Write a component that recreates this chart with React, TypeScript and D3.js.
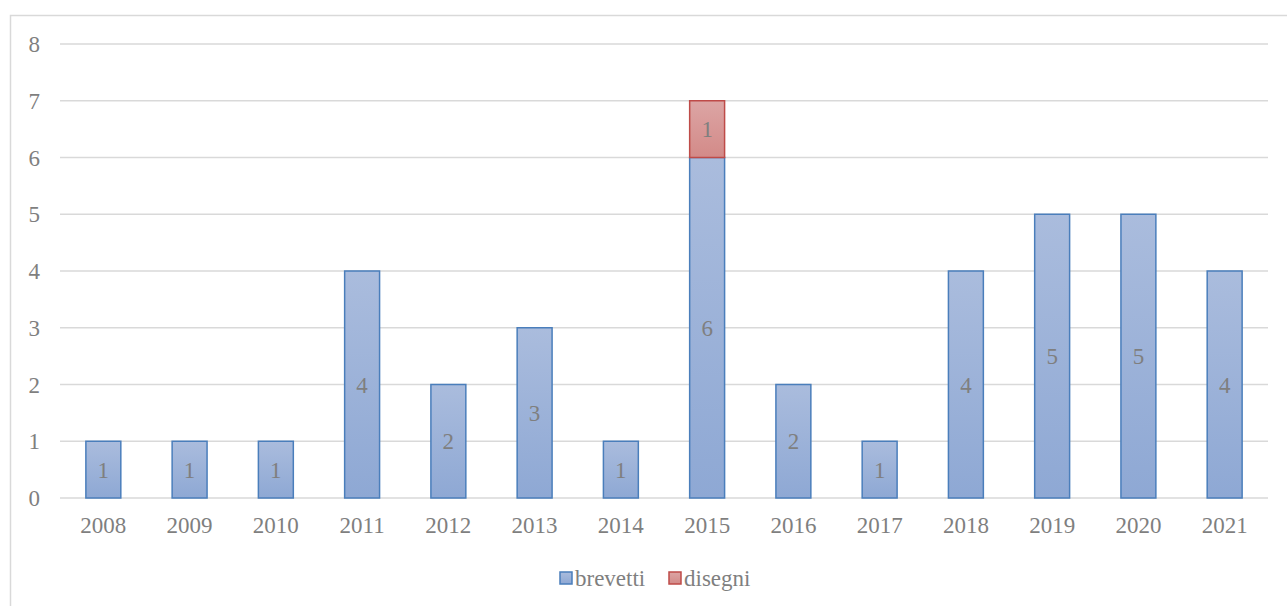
import React, { useEffect, useRef } from 'react';
import * as d3 from 'd3';

const years = ['2008', '2009', '2010', '2011', '2012', '2013', '2014', '2015', '2016', '2017', '2018', '2019', '2020', '2021'];
const brevetti = [1, 1, 1, 4, 2, 3, 1, 6, 2, 1, 4, 5, 5, 4];
const disegni = [0, 0, 0, 0, 0, 0, 0, 1, 0, 0, 0, 0, 0, 0];
const yTicks = [0, 1, 2, 3, 4, 5, 6, 7, 8];

const App = () => {
  const ref = useRef<SVGSVGElement>(null);

  useEffect(() => {
    if (!ref.current) return;
    const svg = d3.select(ref.current);
    svg.selectAll('*').remove();

    const font = "'Liberation Serif', 'Times New Roman', serif";
    const textColor = '#7f7f7f';
    const fs = 23;

    const defs = svg.append('defs');
    const gb = defs.append('linearGradient').attr('id', 'gBlue').attr('x1', 0).attr('y1', 0).attr('x2', 0).attr('y2', 1);
    gb.append('stop').attr('offset', '0%').attr('stop-color', '#aabcdd');
    gb.append('stop').attr('offset', '100%').attr('stop-color', '#8ea8d4');
    const gr = defs.append('linearGradient').attr('id', 'gRed').attr('x1', 0).attr('y1', 0).attr('x2', 0).attr('y2', 1);
    gr.append('stop').attr('offset', '0%').attr('stop-color', '#dca5a4');
    gr.append('stop').attr('offset', '100%').attr('stop-color', '#d38a88');

    // chart border
    svg.append('rect')
      .attr('x', 10.5).attr('y', 15.5).attr('width', 1290).attr('height', 600)
      .attr('fill', 'white').attr('stroke', '#d9d9d9').attr('stroke-width', 1.5);

    const x = d3.scaleBand().domain(years).range([60, 1268]).paddingInner(0.595).paddingOuter(0.3);
    const y = d3.scaleLinear().domain([0, 8]).range([498, 44]);

    const txt = (sel: any) => sel.style('font-family', font).style('font-size', `${fs}px`).attr('fill', textColor);

    // gridlines
    svg.append('g').selectAll('line').data(yTicks).join('line')
      .attr('x1', 60).attr('x2', 1268)
      .attr('y1', (d) => y(d)).attr('y2', (d) => y(d))
      .attr('stroke', '#d9d9d9').attr('stroke-width', 1.5);

    // y tick labels
    svg.append('g').selectAll('text').data(yTicks).join('text')
      .attr('x', 40).attr('y', (d) => y(d)).attr('dy', '0.35em')
      .attr('text-anchor', 'end')
      .call(txt)
      .text((d) => d);

    // x tick labels
    svg.append('g').selectAll('text').data(years).join('text')
      .attr('x', (d) => x(d)! + x.bandwidth() / 2).attr('y', 533)
      .attr('text-anchor', 'middle')
      .call(txt)
      .text((d) => d);

    const stackData = years.map((yr, i) => ({ year: yr, brevetti: brevetti[i], disegni: disegni[i] }));
    const series = d3.stack<any>().keys(['brevetti', 'disegni'])(stackData);
    const fills: Record<string, string> = { brevetti: 'url(#gBlue)', disegni: 'url(#gRed)' };
    const strokes: Record<string, string> = { brevetti: '#4a7ebb', disegni: '#be4b48' };

    series.forEach((s) => {
      const g = svg.append('g');
      const pts = s.filter((d) => d[1] - d[0] > 0);
      g.selectAll('rect').data(pts).join('rect')
        .attr('x', (d) => x(d.data.year)!)
        .attr('y', (d) => y(d[1]))
        .attr('width', x.bandwidth())
        .attr('height', (d) => y(d[0]) - y(d[1]))
        .attr('fill', fills[s.key]).attr('stroke', strokes[s.key]).attr('stroke-width', 1.5);
      g.selectAll('text').data(pts).join('text')
        .attr('x', (d) => x(d.data.year)! + x.bandwidth() / 2)
        .attr('y', (d) => (y(d[0]) + y(d[1])) / 2).attr('dy', '0.35em')
        .attr('text-anchor', 'middle')
        .call(txt)
        .text((d) => d[1] - d[0]);
    });

    // legend
    const legend = [
      { key: 'brevetti', x: 560 },
      { key: 'disegni', x: 669 },
    ];
    const lg = svg.append('g');
    legend.forEach((l) => {
      lg.append('rect').attr('x', l.x).attr('y', 572).attr('width', 12).attr('height', 12)
        .attr('fill', fills[l.key]).attr('stroke', strokes[l.key]).attr('stroke-width', 1.5);
      lg.append('text').attr('x', l.x + 15).attr('y', 578).attr('dy', '0.35em')
        .call(txt)
        .text(l.key);
    });
  }, []);

  return (
    <div style={{ position: 'absolute', left: 0, top: 0 }}>
      <svg ref={ref} width={1287} height={606} style={{ display: 'block' }} />
    </div>
  );
};

export default App;
